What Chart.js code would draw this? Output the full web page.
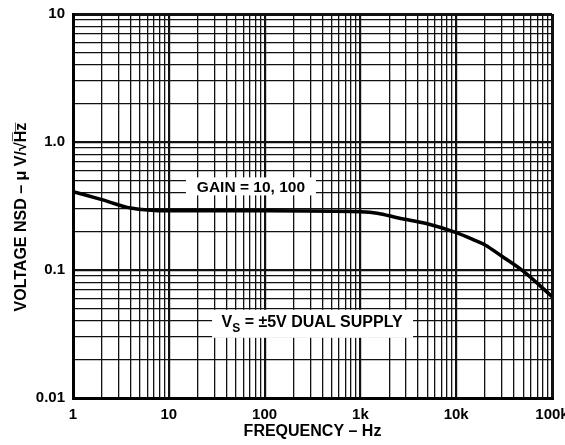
<!DOCTYPE html>
<html>
<head>
<meta charset="utf-8">
<script src="https://cdn.jsdelivr.net/npm/chart.js@4"></script>
<style>
  html, body { margin: 0; padding: 0; background: #fff; }
  #wrap { width: 565px; height: 445px; }
</style>
</head>
<body>
<div id="wrap"><canvas id="nsdChart"></canvas></div>
<script>
// frequency (Hz) and voltage noise density (uV/rtHz)
const freqHz = [1, 2, 4, 10, 100, 1000, 1500, 2500, 5000, 10000, 15000, 20000, 30000, 50000, 100000];
const nsd = [0.41, 0.355, 0.305, 0.29, 0.29, 0.285, 0.278, 0.255, 0.23, 0.196, 0.173, 0.157, 0.128, 0.098, 0.062];

const xTickValues = [1, 10, 100, 1000, 10000, 100000];
const xTickLabels = ['1', '10', '100', '1k', '10k', '100k'];
const yTickValues = [0.01, 0.1, 1, 10];
const yTickLabels = ['0.01', '0.1', '1.0', '10'];

const gainNote = 'GAIN = 10, 100';
const supplyNote = ' = \u00B15V DUAL SUPPLY';

const FONT = '"Liberation Sans", Arial, sans-serif';

// 1..9 per decade so every minor grid line gets drawn
function decadeGrid(min, max) {
  const out = [];
  for (let d = min; d < max; d *= 10) {
    for (let m = 1; m < 10; m++) out.push(+(m * d).toPrecision(3));
  }
  out.push(max);
  return out;
}

function isDecade(v) {
  const l = Math.log10(v);
  return Math.abs(l - Math.round(l)) < 1e-6;
}

const noteBoxes = {
  id: 'noteBoxes',
  afterDatasetsDraw(chart) {
    const { ctx, scales: { x, y } } = chart;
    ctx.save();
    ctx.textBaseline = 'middle';

    // gain note
    let cx = x.getPixelForValue(72), cy = y.getPixelForValue(0.45);
    ctx.fillStyle = '#fff';
    ctx.fillRect(cx - 65, cy - 9, 130, 18);
    ctx.fillStyle = '#000';
    ctx.textAlign = 'center';
    ctx.font = 'bold 15.5px ' + FONT;
    ctx.fillText(gainNote, cx, cy + 1);

    // supply note with subscript
    cx = x.getPixelForValue(313); cy = y.getPixelForValue(0.038);
    ctx.fillStyle = '#fff';
    ctx.fillRect(cx - 100, cy - 14, 201, 28);
    ctx.fillStyle = '#000';
    ctx.textAlign = 'left';
    ctx.font = 'bold 16px ' + FONT;
    const wV = ctx.measureText('V').width;
    const wR = ctx.measureText(supplyNote).width;
    ctx.font = 'bold 12px ' + FONT;
    const wS = ctx.measureText('S').width;
    const sx = cx - (wV + wS + wR) / 2;
    ctx.font = 'bold 16px ' + FONT;
    ctx.fillText('V', sx, cy - 1);
    ctx.fillText(supplyNote, sx + wV + wS, cy - 1);
    ctx.font = 'bold 12px ' + FONT;
    ctx.fillText('S', sx + wV, cy + 5);
    ctx.restore();
  }
};

function gridWidth(c, min, max) {
  const v = c.tick ? c.tick.value : null;
  if (v === null) return 1;
  if (v === min || v === max) return 3;
  return isDecade(v) ? 2.2 : 1.3;
}

const tickFont = { family: FONT, size: 15, weight: 'bold' };
const titleFont = { family: FONT, size: 16, weight: 'bold' };

new Chart(document.getElementById('nsdChart'), {
  type: 'line',
  data: {
    datasets: [{
      data: freqHz.map((f, i) => ({ x: f, y: nsd[i] })),
      borderColor: '#000',
      borderWidth: 3.5,
      pointRadius: 0,
      cubicInterpolationMode: 'monotone',
      fill: false
    }]
  },
  options: {
    responsive: true,
    maintainAspectRatio: false,
    animation: false,
    layout: { padding: { left: 12, right: 13, top: 14, bottom: 4 } },
    plugins: { legend: { display: false }, tooltip: { enabled: false } },
    scales: {
      x: {
        type: 'logarithmic',
        min: 1,
        max: 100000,
        afterBuildTicks: s => { s.ticks = decadeGrid(1, 100000).map(v => ({ value: v })); },
        afterFit: s => { s.height = 43; s.paddingLeft = 0; s.paddingRight = 0; },
        grid: {
          color: '#111',
          lineWidth: c => gridWidth(c, 1, 100000),
          drawTicks: false
        },
        border: { color: '#000', width: 3 },
        ticks: {
          autoSkip: false,
          maxRotation: 0,
          padding: 8,
          color: '#000',
          font: tickFont,
          callback: v => {
            const i = xTickValues.findIndex(t => Math.abs(t - v) < 1e-6 * t);
            return i >= 0 ? xTickLabels[i] : '';
          }
        },
        title: {
          display: true,
          text: 'FREQUENCY \u2013 Hz',
          color: '#000',
          font: titleFont,
          padding: { top: 0, bottom: 0 }
        }
      },
      y: {
        type: 'logarithmic',
        min: 0.01,
        max: 10,
        afterBuildTicks: s => { s.ticks = decadeGrid(0.01, 10).map(v => ({ value: v })); },
        afterFit: s => { s.width = 61; s.paddingTop = 0; s.paddingBottom = 0; },
        grid: {
          color: '#111',
          lineWidth: c => gridWidth(c, 0.01, 10),
          drawTicks: false
        },
        border: { color: '#000', width: 3 },
        ticks: {
          autoSkip: false,
          padding: 8,
          color: '#000',
          font: tickFont,
          callback: v => {
            const i = yTickValues.findIndex(t => Math.abs(t - v) < 1e-6 * t);
            return i >= 0 ? yTickLabels[i] : '';
          }
        },
        title: {
          display: true,
          // trailing spaces nudge the title down like the original
          text: 'VOLTAGE NSD \u2013 \u03BC V/\u221AH\u0305z\u0305     ',
          color: '#000',
          font: titleFont,
          padding: { top: 0, bottom: 0 }
        }
      }
    }
  },
  plugins: [noteBoxes]
});
</script>
</body>
</html>
